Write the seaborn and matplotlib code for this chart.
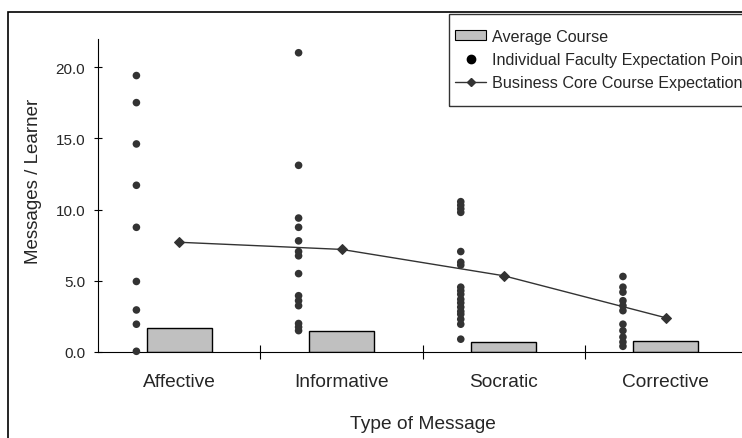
import pandas as pd
import numpy as np
from matplotlib import pyplot as plt
from matplotlib.patches import Patch, Rectangle
from matplotlib.lines import Line2D
import seaborn as sns

# chart data
categories = ['Affective', 'Informative', 'Socratic', 'Corrective']
avg_course = [1.7, 1.45, 0.7, 0.75]
core_expectation = [7.7, 7.2, 5.35, 2.4]

affective_pts = [19.4, 17.5, 14.6, 11.7, 8.75, 4.95, 2.95, 1.95, 0.05]
informative_pts = [21.0, 13.1, 9.4, 8.75, 7.8, 7.05, 6.75, 5.5, 3.95, 3.6, 3.25, 2.0, 1.75, 1.5]
socratic_pts = [10.55, 10.3, 10.05, 9.8, 7.05, 6.3, 6.1, 4.55, 4.3, 4.05, 3.7,
                3.45, 3.15, 2.85, 2.65, 2.3, 1.95, 0.9]
corrective_pts = [5.3, 4.55, 4.2, 3.6, 3.25, 2.9, 1.95, 1.5, 1.05, 0.7, 0.4]

faculty = {'Affective': affective_pts, 'Informative': informative_pts,
           'Socratic': socratic_pts, 'Corrective': corrective_pts}

pts = pd.DataFrame([(c, v) for c in categories for v in faculty[c]],
                   columns=['category', 'value'])
pts['pos'] = pts['category'].map({c: i for i, c in enumerate(categories)}) - 0.265

bars = pd.DataFrame({'category': categories, 'avg': avg_course})
line = pd.DataFrame({'pos': np.arange(len(categories)), 'val': core_expectation})

sns.set_style('white')
plt.rcParams['font.family'] = ['Liberation Sans', 'DejaVu Sans']

fig = plt.figure(figsize=(7.42, 4.39), dpi=100)
ax = fig.add_axes([98.3 / 742, 1 - 353 / 439, 648.7 / 742, 313.5 / 439])

sns.barplot(data=bars, x='category', y='avg', order=categories, width=0.4,
            color='#C0C0C0', edgecolor='black', linewidth=1.0, saturation=1, ax=ax)
sns.scatterplot(data=pts, x='pos', y='value', color='#333333', s=30,
                edgecolor='none', clip_on=False, zorder=3, ax=ax)
sns.lineplot(data=line, x='pos', y='val', color='#333333', linewidth=1.0,
             marker='D', markersize=5, markeredgecolor='#333333', zorder=4, ax=ax)

ax.set_xlim(-0.5, 3.5)
ax.set_ylim(0, 22)
ax.set_yticks([0, 5, 10, 15, 20])
ax.set_yticklabels([f'{v:.1f}' for v in [0, 5, 10, 15, 20]])
ax.set_xticks(range(len(categories)))
ax.set_xticklabels(categories)
ax.set_xticks([0.5, 1.5, 2.5], minor=True)

ax.tick_params(axis='x', which='major', length=0, pad=15, labelsize=13.8)
ax.tick_params(axis='x', which='minor', direction='inout', length=10, width=0.8,
               color='black', bottom=True)
ax.tick_params(axis='y', direction='inout', length=6, width=0.8, color='black',
               pad=6.5, labelsize=11, left=True)

for s in ['top', 'right']:
    ax.spines[s].set_visible(False)
for s in ['left', 'bottom']:
    ax.spines[s].set_color('black')
    ax.spines[s].set_linewidth(0.8)

ax.set_xlabel('Type of Message', fontsize=13.8, labelpad=18)
ax.set_ylabel('Messages / Learner', fontsize=13.5)
ax.yaxis.set_label_coords(-0.087, 0.546)

handles = [
    Patch(facecolor='#C0C0C0', edgecolor='black', linewidth=0.8),
    Line2D([], [], linestyle='none', marker='o', color='black', markersize=6),
    Line2D([], [], color='#333333', linewidth=1.0, marker='D', markersize=4),
]
labels = ['Average Course', 'Individual Faculty Expectation Points',
          'Business Core Course Expectations']
leg = fig.legend(handles, labels, loc='upper left',
                 bbox_to_anchor=(455 / 742, 1 - 30 / 439), fontsize=11.6,
                 frameon=False, borderaxespad=0, borderpad=0,
                 handlelength=1.95, handleheight=0.6, handletextpad=0.35,
                 labelspacing=0.5)

# legend box, drawn separately so the rows can sit where they do in the reference
fig.patches.append(Rectangle((449 / 742, 1 - 107 / 439), 1, 92 / 439,
                             transform=fig.transFigure, fill=False,
                             edgecolor='#333333', linewidth=1.0, zorder=5))

# outer chart border (runs past the right and bottom edges)
fig.patches.append(Rectangle((8.3 / 742, -0.5), 2, 1.5 - 12.7 / 439,
                             transform=fig.transFigure, fill=False,
                             edgecolor='black', linewidth=1.2, zorder=0))

fig.savefig('out.png', dpi=100)
